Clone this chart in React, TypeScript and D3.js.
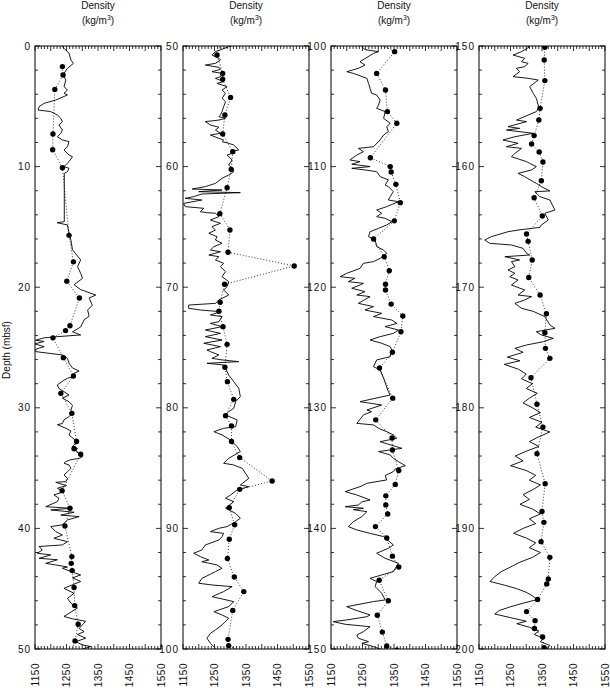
import React from 'react';
import { scaleLinear, line, range } from 'd3';

// continuous density log, [depth (mbsf), density (kg/m3)]
const densityLog: [number, number][] = [
  [0.0, 1237], [0.19, 1242], [0.61, 1258], [1.16, 1264], [1.44, 1272], [1.85, 1253], [2.27, 1242], [2.54, 1242],
  [2.82, 1248], [3.37, 1242], [3.65, 1253], [3.92, 1242], [4.06, 1253], [4.48, 1216], [4.75, 1179], [5.03, 1163],
  [5.31, 1160], [5.44, 1200], [5.72, 1221], [6.0, 1232], [6.27, 1237], [6.55, 1226], [6.97, 1237], [7.24, 1232],
  [7.52, 1221], [7.79, 1237], [7.93, 1258], [8.35, 1253], [8.62, 1242], [9.04, 1258], [9.18, 1269], [9.59, 1258],
  [10.0, 1242], [10.14, 1258], [10.42, 1253], [10.56, 1243], [14.57, 1243], [14.65, 1220], [14.84, 1253], [15.53, 1258],
  [16.09, 1264], [16.9, 1269], [17.74, 1295], [18.3, 1285], [18.85, 1295], [19.26, 1301], [19.8, 1274], [20.2, 1295],
  [20.65, 1343], [20.9, 1322], [21.5, 1332], [21.9, 1317], [22.4, 1322], [22.7, 1306], [23.3, 1295], [23.7, 1269],
  [23.96, 1295], [24.1, 1221], [24.2, 1179], [24.4, 1152], [24.5, 1179], [24.7, 1149], [24.93, 1179], [25.15, 1152],
  [25.34, 1152], [25.62, 1237], [25.9, 1253], [26.3, 1258], [26.7, 1269], [26.95, 1290], [27.14, 1274], [27.4, 1274],
  [27.55, 1253], [27.8, 1237], [28.1, 1221], [28.4, 1226], [28.66, 1242], [28.94, 1258], [29.2, 1237], [29.5, 1258],
  [29.8, 1269], [30.18, 1264], [30.46, 1269], [30.73, 1258], [31.0, 1242], [31.3, 1237], [31.4, 1221], [31.7, 1248],
  [31.92, 1264], [32.25, 1258], [32.6, 1274], [32.8, 1285], [33.2, 1269], [33.36, 1285], [33.58, 1279], [34.05, 1301],
  [34.2, 1290], [34.3, 1264], [34.46, 1248], [34.6, 1242], [34.74, 1258], [35.02, 1264], [35.3, 1253], [35.57, 1242],
  [35.85, 1253], [36.12, 1248], [36.18, 1216], [36.45, 1250], [36.67, 1221], [36.95, 1242], [37.23, 1210], [37.5, 1226],
  [37.78, 1221], [38.2, 1184], [38.33, 1264], [38.47, 1200], [38.66, 1274], [38.9, 1232], [39.02, 1290], [39.3, 1253],
  [39.7, 1237], [39.85, 1200], [40.27, 1216], [40.55, 1237], [40.82, 1210], [41.1, 1253], [41.37, 1237], [41.5, 1163],
  [41.8, 1173], [42.06, 1157], [42.2, 1200], [42.48, 1163], [42.6, 1221], [42.9, 1184], [43.03, 1216], [43.2, 1253],
  [43.3, 1237], [43.58, 1264], [43.86, 1295], [44.1, 1269], [44.4, 1295], [44.97, 1242], [45.38, 1274], [45.8, 1253],
  [46.2, 1264], [46.6, 1285], [47.3, 1242], [47.5, 1269], [47.7, 1311], [48.3, 1290], [48.56, 1306], [48.8, 1285],
  [49.1, 1311], [49.4, 1279], [49.66, 1301], [49.8, 1327], [50.06, 1295], [50.47, 1253], [50.75, 1242], [51.02, 1264],
  [51.16, 1269], [51.44, 1253], [51.58, 1221], [51.77, 1264], [51.93, 1269], [52.13, 1242], [52.27, 1274], [52.54, 1269],
  [52.68, 1253], [52.96, 1279], [53.1, 1258], [53.37, 1290], [53.65, 1274], [53.92, 1285], [54.34, 1274], [54.62, 1285],
  [55.03, 1279], [55.44, 1274], [55.72, 1269], [55.86, 1264], [56.0, 1285], [56.14, 1264], [56.27, 1221], [56.55, 1237],
  [56.74, 1264], [56.97, 1253], [57.24, 1269], [57.38, 1237], [57.66, 1264], [57.8, 1279], [57.93, 1274], [58.07, 1295],
  [58.21, 1311], [58.62, 1327], [58.76, 1301], [58.9, 1306], [59.04, 1290], [59.45, 1306], [59.87, 1295], [60.14, 1306],
  [60.42, 1311], [60.7, 1295], [60.97, 1274], [61.39, 1253], [61.66, 1221], [61.86, 1179], [61.94, 1274], [62.08, 1200],
  [62.16, 1332], [62.27, 1210], [62.49, 1184], [62.63, 1157], [62.77, 1210], [63.05, 1152], [63.32, 1157], [63.46, 1216],
  [63.74, 1205], [63.82, 1226], [63.87, 1253], [64.15, 1264], [64.43, 1237], [64.7, 1269], [64.98, 1242], [65.26, 1253],
  [65.53, 1232], [65.81, 1258], [66.09, 1253], [66.36, 1274], [66.64, 1248], [66.92, 1237], [67.06, 1269], [67.33, 1232],
  [67.47, 1264], [67.74, 1253], [68.02, 1279], [68.3, 1269], [68.71, 1285], [69.13, 1274], [69.54, 1295], [69.96, 1290],
  [70.23, 1279], [70.65, 1295], [71.06, 1264], [71.34, 1253], [71.48, 1168], [71.75, 1168], [71.89, 1205], [72.03, 1269],
  [72.3, 1237], [72.44, 1274], [72.86, 1264], [73.0, 1237], [73.27, 1274], [73.55, 1221], [73.83, 1269], [74.1, 1221],
  [74.38, 1274], [74.65, 1216], [74.93, 1269], [75.2, 1226], [75.34, 1237], [75.62, 1264], [75.9, 1242], [76.03, 1274],
  [76.17, 1327], [76.31, 1226], [76.45, 1279], [76.72, 1285], [77.28, 1295], [77.83, 1311], [78.38, 1327], [79.07, 1332],
  [79.49, 1317], [80.04, 1311], [80.32, 1295], [80.59, 1285], [81.01, 1322], [81.56, 1317], [81.7, 1279], [81.98, 1248],
  [82.25, 1274], [82.67, 1301], [83.22, 1322], [83.63, 1332], [84.19, 1295], [84.6, 1279], [84.74, 1311], [85.02, 1338],
  [85.85, 1359], [86.4, 1332], [86.54, 1359], [86.81, 1322], [87.23, 1301], [87.5, 1285], [87.78, 1311], [88.33, 1285],
  [88.75, 1317], [89.16, 1332], [89.44, 1317], [89.85, 1290], [89.99, 1264], [90.27, 1237], [90.41, 1279], [90.68, 1274],
  [90.96, 1264], [91.37, 1221], [91.79, 1210], [92.06, 1184], [92.34, 1205], [92.62, 1232], [92.76, 1210], [93.03, 1258],
  [93.31, 1274], [93.58, 1253], [93.8, 1237], [94.14, 1210], [94.55, 1200], [94.69, 1242], [94.83, 1306], [95.24, 1279],
  [95.66, 1242], [96.07, 1311], [96.49, 1295], [96.76, 1264], [96.9, 1248], [97.18, 1274], [97.45, 1295], [98.0, 1274],
  [98.42, 1253], [98.7, 1237], [99.11, 1226], [99.53, 1237], [99.94, 1253], [100.06, 1248], [100.3, 1258], [100.47, 1301],
  [100.61, 1285], [101.3, 1242], [101.58, 1258], [101.85, 1237], [102.13, 1200], [102.27, 1221], [102.68, 1264], [103.1, 1269],
  [103.51, 1274], [103.92, 1279], [104.06, 1295], [104.48, 1306], [104.89, 1301], [105.17, 1295], [105.44, 1322], [106.0, 1317],
  [106.41, 1338], [106.69, 1327], [107.1, 1332], [107.38, 1317], [107.79, 1306], [108.35, 1285], [108.49, 1237], [108.76, 1253],
  [109.04, 1232], [109.45, 1210], [109.59, 1242], [109.8, 1216], [110.0, 1274], [110.14, 1216], [110.28, 1258], [110.42, 1295],
  [110.83, 1306], [111.1, 1332], [111.53, 1322], [111.66, 1332], [112.08, 1348], [112.49, 1338], [112.77, 1332], [112.91, 1364],
  [113.32, 1327], [113.6, 1295], [113.87, 1311], [114.15, 1295], [114.29, 1322], [114.57, 1343], [114.84, 1327], [115.12, 1301],
  [115.4, 1274], [115.81, 1269], [116.09, 1290], [116.64, 1295], [116.92, 1317], [117.19, 1327], [117.61, 1306], [117.88, 1285],
  [118.02, 1253], [118.44, 1242], [118.85, 1200], [119.13, 1179], [119.26, 1226], [119.54, 1205], [119.68, 1253], [119.82, 1242],
  [120.09, 1216], [120.37, 1258], [120.65, 1232], [120.78, 1274], [121.34, 1237], [121.61, 1285], [121.89, 1258], [122.17, 1311],
  [122.44, 1285], [122.72, 1343], [123.0, 1359], [123.27, 1322], [123.55, 1364], [123.83, 1348], [124.1, 1306], [124.38, 1274],
  [124.65, 1311], [124.93, 1338], [125.2, 1343], [125.76, 1338], [126.03, 1295], [126.59, 1285], [126.86, 1306], [127.55, 1317],
  [128.66, 1332], [128.94, 1338], [129.49, 1242], [129.77, 1311], [130.18, 1264], [130.32, 1279], [130.59, 1253], [131.29, 1232],
  [131.42, 1285], [131.7, 1301], [131.98, 1327], [132.25, 1348], [132.53, 1359], [132.81, 1306], [133.36, 1375], [133.63, 1301],
  [133.91, 1338], [134.19, 1348], [134.46, 1364], [134.8, 1386], [135.07, 1354], [135.29, 1348], [135.62, 1322], [135.98, 1327],
  [136.26, 1264], [136.54, 1242], [136.95, 1195], [137.23, 1232], [137.64, 1274], [137.8, 1248], [138.06, 1237], [138.2, 1195],
  [138.33, 1253], [138.45, 1221], [138.61, 1264], [139.02, 1248], [139.44, 1221], [139.85, 1205], [140.13, 1232], [140.41, 1274],
  [140.68, 1317], [141.37, 1348], [141.65, 1332], [142.06, 1295], [142.48, 1322], [142.89, 1364], [143.58, 1348], [143.86, 1311],
  [144.14, 1274], [144.41, 1295], [144.83, 1290], [145.38, 1311], [145.93, 1322], [146.07, 1285], [146.49, 1200], [146.76, 1226],
  [147.18, 1274], [147.32, 1264], [147.59, 1200], [147.73, 1157], [147.95, 1195], [148.15, 1274], [148.56, 1253], [148.84, 1232],
  [149.11, 1237], [149.39, 1269], [149.53, 1248], [149.8, 1285], [150.06, 1311], [150.47, 1285], [150.75, 1258], [151.02, 1295],
  [151.3, 1285], [151.44, 1306], [151.71, 1295], [151.85, 1269], [152.13, 1279], [152.54, 1258], [152.68, 1306], [152.82, 1338],
  [153.37, 1311], [153.92, 1322], [154.34, 1332], [154.89, 1338], [155.17, 1338], [155.44, 1332], [156.14, 1269], [156.27, 1301],
  [156.69, 1242], [156.83, 1279], [156.97, 1237], [157.24, 1322], [157.52, 1264], [157.79, 1226], [158.07, 1274], [158.35, 1237],
  [158.49, 1285], [158.9, 1264], [159.18, 1253], [159.59, 1301], [159.73, 1311], [160.0, 1332], [160.28, 1317], [160.56, 1274],
  [160.83, 1295], [161.25, 1322], [161.39, 1332], [161.66, 1348], [162.02, 1375], [162.08, 1327], [162.49, 1343], [162.77, 1375],
  [163.6, 1391], [163.87, 1359], [164.43, 1370], [164.84, 1348], [165.04, 1343], [165.26, 1274], [165.4, 1242], [165.81, 1189],
  [166.09, 1168], [166.36, 1184], [166.5, 1253], [166.78, 1290], [167.19, 1301], [167.33, 1311], [167.47, 1232], [167.74, 1279],
  [167.88, 1253], [168.3, 1264], [168.57, 1242], [168.85, 1264], [169.13, 1248], [169.4, 1274], [169.82, 1253], [170.23, 1295],
  [170.65, 1274], [170.78, 1317], [171.06, 1295], [171.34, 1264], [171.75, 1285], [172.0, 1322], [172.44, 1359], [173.13, 1375],
  [173.41, 1391], [173.69, 1332], [173.96, 1348], [174.24, 1386], [174.52, 1354], [174.79, 1301], [175.07, 1264], [175.4, 1290],
  [175.8, 1240], [176.1, 1280], [176.4, 1230], [176.8, 1275], [177.2, 1300], [177.6, 1285], [178.0, 1320], [178.4, 1300],
  [178.8, 1335], [179.2, 1310], [179.6, 1290], [180.0, 1320], [180.4, 1345], [180.8, 1310], [181.2, 1350], [181.6, 1330],
  [182.0, 1375], [182.4, 1340], [182.8, 1310], [183.2, 1340], [183.6, 1300], [184.0, 1265], [184.4, 1290], [184.8, 1250],
  [185.2, 1300], [185.6, 1330], [186.0, 1310], [186.4, 1345], [186.8, 1320], [187.2, 1290], [187.6, 1310], [188.0, 1280],
  [188.4, 1320], [188.8, 1345], [189.2, 1310], [189.6, 1330], [190.0, 1290], [190.4, 1260], [190.8, 1300], [191.2, 1330],
  [191.6, 1310], [192.0, 1345], [192.4, 1320], [192.8, 1280], [193.2, 1250], [193.6, 1220], [194.0, 1200], [194.4, 1185],
  [194.7, 1230], [195.0, 1270], [195.3, 1300], [195.6, 1320], [195.9, 1335], [196.2, 1290], [196.5, 1250], [196.8, 1215],
  [197.1, 1200], [197.4, 1250], [197.7, 1300], [197.9, 1270], [198.2, 1310], [198.5, 1340], [198.8, 1325], [199.1, 1355],
  [199.4, 1345], [199.7, 1375], [200.0, 1365],
];

// discrete sample densities, [depth (mbsf), density (kg/m3)]
const densitySamples: [number, number][] = [
  [1.71, 1237], [2.4, 1239], [3.6, 1213], [7.3, 1207], [8.6, 1206], [10.1, 1237], [15.7, 1258], [17.9, 1272],
  [19.5, 1251], [20.9, 1291], [23.2, 1261], [23.6, 1247], [24.2, 1207], [25.84, 1240], [27.36, 1272], [28.8, 1232],
  [30.46, 1267], [32.8, 1282], [33.4, 1274], [33.85, 1295], [36.87, 1236], [38.33, 1261], [39.8, 1245], [42.34, 1267],
  [42.9, 1265], [43.5, 1268], [44.9, 1274], [46.4, 1276], [47.95, 1287], [49.33, 1277],
  [50.75, 1258], [52.27, 1276], [52.76, 1276], [54.26, 1301], [55.72, 1283], [57.3, 1276], [58.76, 1308], [60.23, 1303],
  [61.75, 1290], [63.9, 1267], [65.26, 1299], [67.1, 1293], [68.24, 1503], [69.76, 1282], [71.25, 1268], [72.0, 1264],
  [73.27, 1277], [74.74, 1290], [76.64, 1283], [77.83, 1291], [79.3, 1311], [80.65, 1285], [81.5, 1304], [82.8, 1304],
  [84.13, 1330], [86.07, 1433], [86.76, 1330], [88.28, 1297], [89.7, 1314], [90.9, 1297], [92.5, 1291], [94.03, 1313],
  [95.24, 1343], [96.8, 1308], [99.2, 1293], [99.72, 1295],
  [100.47, 1352], [102.27, 1295], [103.65, 1323], [105.44, 1329], [106.41, 1359], [109.26, 1275], [110.0, 1338], [110.45, 1341],
  [111.47, 1356], [112.99, 1370], [114.5, 1351], [116.0, 1285], [117.47, 1319], [118.63, 1335], [119.76, 1323], [120.23, 1323],
  [121.4, 1341], [122.39, 1378], [123.69, 1372], [125.4, 1345], [126.7, 1304], [129.2, 1346], [131.0, 1292], [132.5, 1344],
  [133.5, 1345], [135.2, 1365], [136.35, 1354], [137.3, 1324], [138.05, 1324], [138.8, 1330], [139.85, 1291], [140.8, 1327],
  [142.3, 1345], [143.2, 1365], [144.3, 1303], [146.0, 1332], [147.2, 1297], [148.6, 1313], [149.75, 1327],
  [150.1, 1359], [151.16, 1357], [152.87, 1359], [155.17, 1344], [156.14, 1340], [157.43, 1325], [158.13, 1317], [158.79, 1341],
  [159.62, 1353], [161.17, 1348], [162.58, 1325], [164.1, 1351], [165.59, 1301], [166.2, 1306], [167.74, 1319], [169.2, 1308],
  [170.65, 1344], [172.2, 1364], [173.77, 1359], [175.07, 1361], [175.9, 1375], [177.5, 1315], [179.7, 1334], [181.6, 1353],
  [183.8, 1334], [186.3, 1360], [188.6, 1350], [189.5, 1356], [191.1, 1347], [192.4, 1375], [194.2, 1370], [194.6, 1365],
  [195.9, 1336], [196.9, 1301], [197.65, 1328], [198.3, 1326], [199.0, 1352], [199.9, 1357],
];

const panelTops = [0, 50, 100, 150];
const densityTicks = [1150, 1250, 1350, 1450, 1550];

const font = 'Liberation Sans, Arial, sans-serif';

const Panel = (props: { top: number, left: number, index: number }) => {
  let width = 126;
  let plotTop = 46;
  let plotBottom = 649;
  let x = scaleLinear().domain([1150, 1550]).range([props.left, props.left + width]);
  let y = scaleLinear().domain([props.top, props.top + 50]).range([plotTop, plotBottom]);
  let linefunc = line<[number, number]>().x(d => x(d[1])).y(d => y(d[0]));
  let clipId = `clip${props.index}`;
  let minorX = range(1150, 1551, 10);
  let minorY = range(props.top, props.top + 50.01, 2);
  let labelY = range(props.top, props.top + 50.01, 10);
  let cx = props.left + width / 2;

  return (
    <g>
      <clipPath id={clipId}>
        <rect x={props.left} y={plotTop} width={width} height={plotBottom - plotTop} />
      </clipPath>
      <text x={cx} y={9} textAnchor='middle' fontSize={10} fontFamily={font} fill='#111'>Density</text>
      <text x={cx} y={24} textAnchor='middle' fontSize={10} fontFamily={font} fill='#111'>
        (kg/m<tspan dy={-4} fontSize={7}>3</tspan><tspan dy={4}>)</tspan>
      </text>
      <g clipPath={`url(#${clipId})`}>
        <path d={linefunc(densityLog) ?? ''} fill='none' stroke='#000' strokeWidth={0.9} strokeLinejoin='round' />
        <path d={linefunc(densitySamples) ?? ''} fill='none' stroke='#000' strokeWidth={0.8} strokeDasharray='1,2' />
        {densitySamples.map((d, i) => <circle key={i} cx={x(d[1])} cy={y(d[0])} r={2.7} fill='#000' />)}
      </g>
      {minorX.map(v => {
        let len = (v - 1150) % 50 == 0 ? 5 : 3;
        return (
          <g key={'x' + v}>
            <line x1={x(v)} x2={x(v)} y1={plotTop} y2={plotTop + len} stroke='#000' strokeWidth={0.8} />
            <line x1={x(v)} x2={x(v)} y1={plotBottom} y2={plotBottom - len} stroke='#000' strokeWidth={0.8} />
          </g>
        );
      })}
      {minorY.map(v => {
        let len = Math.abs((v - props.top) % 10) < 0.01 ? 5 : 3;
        return (
          <g key={'y' + v}>
            <line x1={props.left} x2={props.left + len} y1={y(v)} y2={y(v)} stroke='#000' strokeWidth={0.8} />
            <line x1={props.left + width} x2={props.left + width - len} y1={y(v)} y2={y(v)} stroke='#000' strokeWidth={0.8} />
          </g>
        );
      })}
      <rect x={props.left} y={plotTop} width={width} height={plotBottom - plotTop} fill='none' stroke='#000' strokeWidth={1} />
      {labelY.map(v => (
        <text key={'l' + v} x={props.left - 4} y={y(v)} textAnchor='end' dominantBaseline='central'
          fontSize={10} fontFamily={font} letterSpacing={1} fill='#111'>{v}</text>
      ))}
      {densityTicks.map(v => (
        <text key={'t' + v} transform={`translate(${x(v)},663) rotate(-90)`} textAnchor='end' dominantBaseline='central'
          fontSize={10} fontFamily={font} letterSpacing={0.5} fill='#111'>{v}</text>
      ))}
    </g>
  );
};

const App = () => {
  let lefts = [35, 183, 331, 479];
  return (
    <svg width={610} height={688} style={{ position: 'absolute', left: 0, top: 0, background: '#fff' }}>
      <rect width={610} height={688} fill='#fff' />
      <text transform='translate(6,350) rotate(-90)' textAnchor='middle' dominantBaseline='central'
        fontSize={10} fontFamily={font} fill='#111'>Depth  (mbsf)</text>
      {panelTops.map((t, i) => <Panel key={t} top={t} left={lefts[i]} index={i} />)}
    </svg>
  );
};

export default App;
